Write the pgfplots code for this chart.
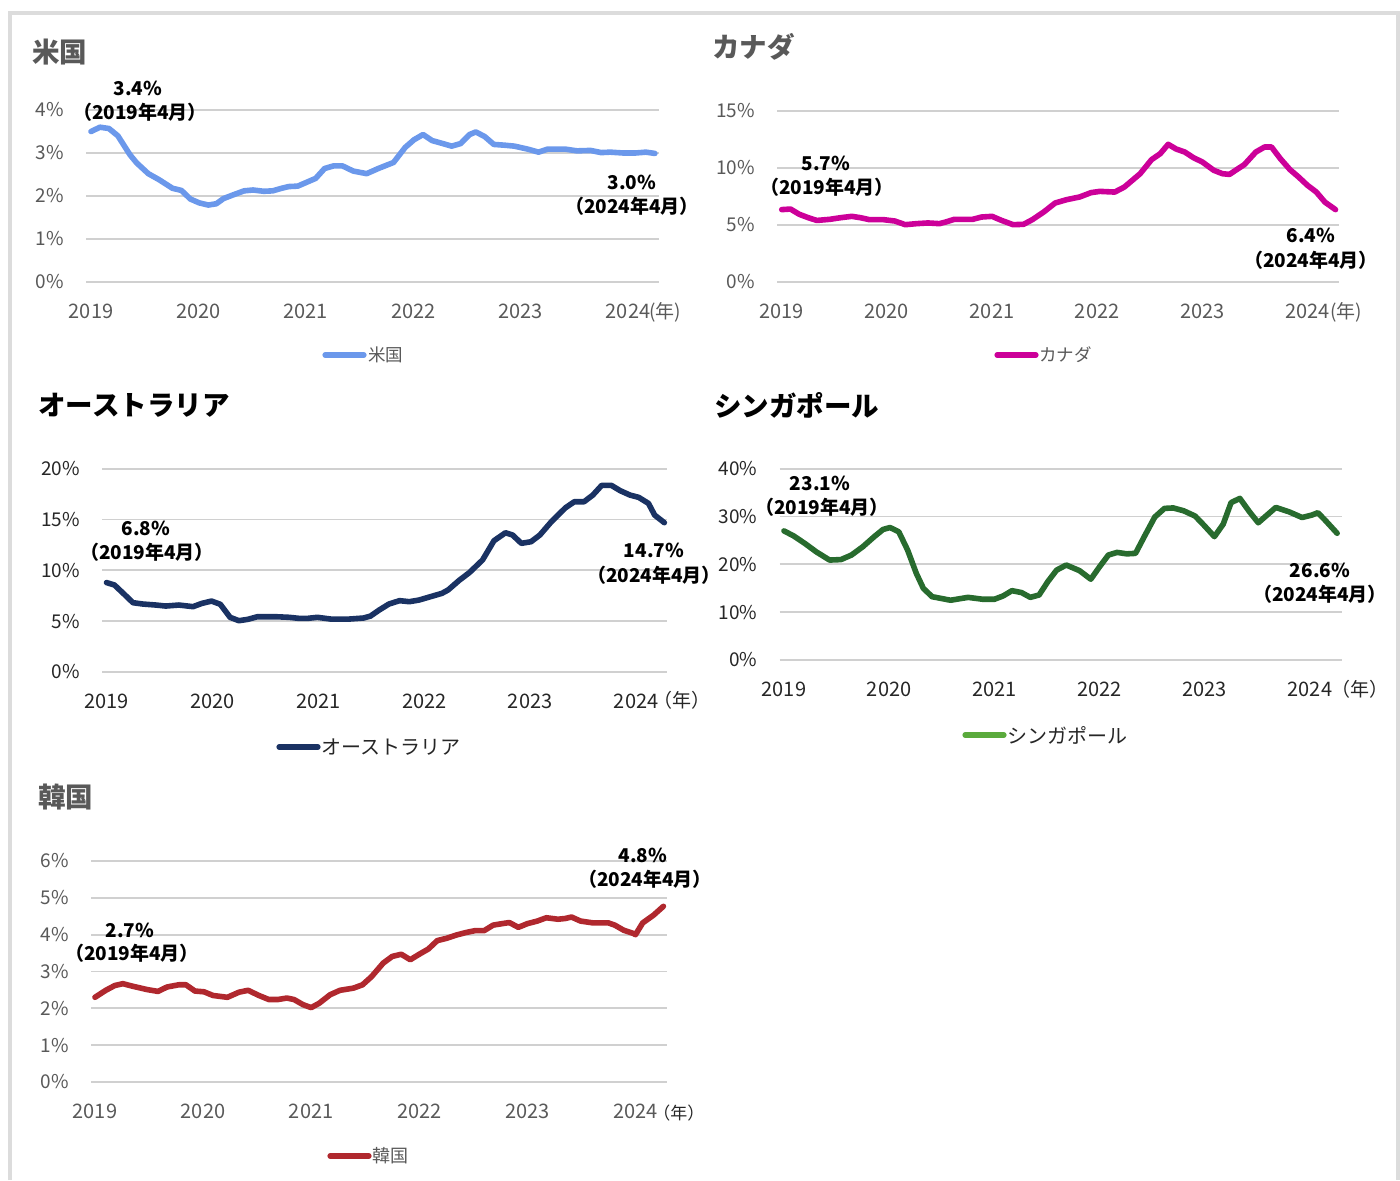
\documentclass[border=0pt]{standalone}
\usepackage{pgfplots}
\pgfplotsset{compat=1.18}
\usepackage{fontspec}
\setmainfont{Noto Sans CJK JP}
\definecolor{lg}{HTML}{595959}
\definecolor{dk}{HTML}{262626}
\definecolor{gridc}{HTML}{D0D0D0}
\definecolor{frame}{HTML}{DCDCDC}
\definecolor{usc}{HTML}{6B98EB}
\definecolor{cac}{HTML}{CC0099}
\definecolor{auc}{HTML}{1A3263}
\definecolor{sgc}{HTML}{286B2E}
\definecolor{sgl}{HTML}{5AAA3C}
\definecolor{krc}{HTML}{B0282E}
\pgfplotsset{
  panel/.style={
    scale only axis, clip=false,
    axis line style={draw=none},
    major tick length=0pt,
    ymajorgrids, grid style={gridc, line width=0.9pt},
    ymin=0,
    xtick={0,12,24,36,48,60},
    xticklabels={2019,2020,2021,2022,2023,2024},
    yticklabel style={anchor=east, xshift=-7.5pt, font=\fontsize{9.5}{11}\selectfont},
    xticklabel style={anchor=north, yshift=-7.5pt, font=\fontsize{10}{12}\selectfont},
  },
  dline/.style={line width=2.8pt, line join=round, line cap=round},
}
\newcommand{\ann}[1]{\fontsize{9.5}{11}\selectfont\bfseries #1}
\begin{document}
\begin{tikzpicture}
\path[use as bounding box] (0,0) rectangle (700pt,-590pt);
\draw[frame, line width=2pt] (5pt,-590pt) -- (5pt,-6.5pt) -- (699pt,-6.5pt) -- (699pt,-590pt);

% ---------- US ----------
\begin{axis}[panel, at={(43pt,-141pt)}, anchor=south west, width=286.5pt, height=86pt,
  xmin=-0.56, xmax=63.46, ymax=4, ytick={0,1,2,3,4},
  yticklabels={0\%,1\%,2\%,3\%,4\%}, tick label style={text=lg}]
\addplot[dline, usc] coordinates {
(0,3.5)(1,3.6)(2,3.57)(3,3.4)(4.35,2.96)(5.1,2.77)(6.4,2.52)(7.6,2.38)(9.1,2.18)(10.1,2.13)
(11.1,1.93)(12.1,1.84)(13.1,1.79)(14,1.82)(14.8,1.94)(15.8,2.02)(17.1,2.12)(18.1,2.14)(19.3,2.11)
(20.3,2.12)(21.3,2.18)(22.1,2.22)(23.1,2.23)(24.1,2.32)(25.1,2.41)(26.1,2.64)(27.1,2.70)(28.1,2.70)
(29.3,2.58)(30.8,2.52)(32.1,2.64)(33.8,2.78)(35.1,3.13)(36.1,3.31)(37.1,3.43)(38.1,3.29)(39.3,3.22)
(40.3,3.16)(41.3,3.22)(42.3,3.43)(43,3.49)(44,3.38)(45,3.20)(46.3,3.18)(47.3,3.16)(48.8,3.09)
(50,3.02)(51,3.09)(53,3.09)(54.3,3.05)(55.8,3.06)(57,3.01)(58,3.02)(59.5,3.0)(60.8,3.0)(62,3.02)(63,2.99)};
\end{axis}
\node[anchor=west, text=lg, font=\fontsize{9.5}{11}\selectfont, inner sep=0pt] at (324.5pt,-156pt) {(年)};
\node[anchor=west, text=lg, font=\fontsize{13.75}{15}\selectfont\bfseries, inner sep=0pt] at (16pt,-26pt) {米国};
\node[font=\ann{}, inner sep=0pt] at (69pt,-44pt) {3.4\%};
\node[font=\ann{}, inner sep=0pt] at (70pt,-56pt) {（2019年4月）};
\node[font=\ann{}, inner sep=0pt] at (316pt,-91pt) {3.0\%};
\node[font=\ann{}, inner sep=0pt] at (316pt,-103pt) {（2024年4月）};
\draw[usc, line width=2.6pt, line cap=round] (162.5pt,-177.5pt) -- (182pt,-177.5pt);
\node[anchor=west, text=lg, font=\fontsize{8.75}{10}\selectfont, inner sep=0pt] at (184pt,-177.5pt) {米国};

% ---------- Canada ----------
\begin{axis}[panel, at={(388.5pt,-141pt)}, anchor=south west, width=281pt, height=85.5pt,
  xmin=-0.54, xmax=63.6, ymax=15, ytick={0,5,10,15},
  yticklabels={0\%,5\%,10\%,15\%}, tick label style={text=lg}]
\addplot[dline, cac] coordinates {
(0,6.35)(1,6.4)(2,5.94)(3,5.65)(4,5.4)(5.5,5.5)(6.7,5.64)(8,5.76)(9,5.64)(10,5.47)(11.6,5.47)
(12.9,5.35)(14.1,5.03)(15.4,5.12)(16.7,5.18)(18,5.12)(18.7,5.26)(19.7,5.5)(21.8,5.5)(22.8,5.7)
(24,5.76)(25.1,5.4)(26.4,5.03)(27.6,5.06)(28.6,5.47)(29.9,6.14)(31.2,6.93)(32.5,7.22)(34,7.46)
(35.3,7.84)(36.3,7.95)(38,7.89)(39.1,8.33)(40.9,9.5)(42.2,10.73)(43.2,11.26)(44.1,12.08)(45,11.67)
(46,11.4)(47,10.9)(48,10.53)(49.3,9.8)(50.3,9.5)(51.1,9.44)(51.8,9.8)(52.8,10.3)(54.1,11.4)
(55.1,11.84)(55.9,11.84)(56.9,10.82)(58,9.86)(59,9.2)(60,8.48)(61,7.9)(62,7.0)(63.2,6.35)};
\end{axis}
\node[anchor=west, text=lg, font=\fontsize{9.5}{11}\selectfont, inner sep=0pt] at (665pt,-156pt) {(年)};
\node[anchor=west, text=lg, font=\fontsize{13.75}{15}\selectfont\bfseries, inner sep=0pt] at (356pt,-23.5pt) {カナダ};
\node[font=\ann{}, inner sep=0pt] at (413pt,-81.5pt) {5.7\%};
\node[font=\ann{}, inner sep=0pt] at (413.5pt,-93.5pt) {（2019年4月）};
\node[font=\ann{}, inner sep=0pt] at (655.5pt,-117.5pt) {6.4\%};
\node[font=\ann{}, inner sep=0pt] at (655.5pt,-130pt) {（2024年4月）};
\draw[cac, line width=2.6pt, line cap=round] (498.5pt,-177.5pt) -- (518pt,-177.5pt);
\node[anchor=west, text=lg, font=\fontsize{8.75}{10}\selectfont, inner sep=0pt] at (519.5pt,-177.5pt) {カナダ};

% ---------- Australia ----------
\begin{axis}[panel, at={(51pt,-336pt)}, anchor=south west, width=282.5pt, height=101.65pt,
  xmin=-0.51, xmax=63.5, ymax=20, ytick={0,5,10,15,20},
  yticklabels={0\%,5\%,10\%,15\%,20\%}, tick label style={text=dk}]
\addplot[dline, auc] coordinates {
(0,8.8)(0.9,8.56)(1.9,7.74)(3,6.82)(4.1,6.69)(5.6,6.59)(6.7,6.49)(8.2,6.59)(9.8,6.43)(10.8,6.75)
(11.9,6.98)(12.9,6.66)(14,5.38)(15,5.05)(16,5.18)(17.1,5.44)(19.2,5.44)(20.7,5.38)(21.8,5.28)
(22.8,5.28)(23.9,5.38)(25.4,5.21)(27.5,5.21)(29.1,5.31)(29.9,5.5)(30.9,6.1)(32,6.69)(33.2,7.02)
(34.3,6.92)(35.4,7.08)(36.7,7.41)(38,7.74)(38.7,8.07)(40,9.05)(41.1,9.77)(42.6,11.02)(43.9,12.92)
(45.2,13.7)(46,13.48)(47,12.66)(48.1,12.82)(49.1,13.48)(50.4,14.79)(52,16.16)(53,16.75)(54.1,16.75)
(55.1,17.41)(56.1,18.36)(57.2,18.36)(58.2,17.84)(59.3,17.41)(60.3,17.18)(61.4,16.59)(62.1,15.44)(63.2,14.69)};
\end{axis}
\node[anchor=west, text=dk, font=\fontsize{9.5}{11}\selectfont, inner sep=0pt] at (326.5pt,-350pt) {（年）};
\node[anchor=west, text=black, font=\fontsize{13.75}{15}\selectfont\bfseries, inner sep=0pt] at (19pt,-202.5pt) {オーストラリア};
\node[font=\ann{}, inner sep=0pt] at (73pt,-264pt) {6.8\%};
\node[font=\ann{}, inner sep=0pt] at (73.5pt,-276pt) {（2019年4月）};
\node[font=\ann{}, inner sep=0pt] at (327pt,-275pt) {14.7\%};
\node[font=\ann{}, inner sep=0pt] at (327pt,-287.5pt) {（2024年4月）};
\draw[auc, line width=2.6pt, line cap=round] (139.5pt,-373.5pt) -- (159pt,-373.5pt);
\node[anchor=west, text=dk, font=\fontsize{10}{12}\selectfont, inner sep=0pt] at (160.5pt,-373.5pt) {オーストラリア};

% ---------- Singapore ----------
\begin{axis}[panel, at={(389.75pt,-330pt)}, anchor=south west, width=281pt, height=95.65pt,
  xmin=-0.51, xmax=63.6, ymax=40, ytick={0,10,20,30,40},
  yticklabels={0\%,10\%,20\%,30\%,40\%}, tick label style={text=dk}]
\addplot[dline, sgc] coordinates {
(0,27.0)(1.1,25.95)(2.4,24.35)(3.7,22.6)(5.2,20.9)(6.5,21.0)(7.7,21.95)(9,23.7)(10.3,25.8)(11.3,27.3)
(12.1,27.7)(13.1,26.8)(14.1,23.0)(15.1,18.1)(15.9,14.98)(16.9,13.24)(19,12.5)(21,13.1)(22.7,12.7)
(24,12.7)(25,13.4)(26,14.5)(27.1,14.1)(28.1,13.1)(29.1,13.6)(30.1,16.4)(31.1,18.8)(32.2,19.86)
(33.7,18.7)(35,16.9)(36,19.5)(37,21.95)(38,22.5)(39.1,22.2)(40.1,22.3)(41.1,25.8)(42.3,29.9)
(43.4,31.7)(44.4,31.8)(45.6,31.2)(46.9,30.1)(47.9,28.2)(49.1,25.8)(50.1,28.4)(51,32.9)(52,33.8)
(53.1,31.0)(54.1,28.7)(55.1,30.3)(56.1,31.9)(57.6,31.0)(59.1,29.8)(60.2,30.3)(60.9,30.8)(61.7,29.3)(63.1,26.5)};
\end{axis}
\node[anchor=west, text=dk, font=\fontsize{9.5}{11}\selectfont, inner sep=0pt] at (665.5pt,-344.5pt) {（年）};
\node[anchor=west, text=black, font=\fontsize{13.75}{15}\selectfont\bfseries, inner sep=0pt] at (357pt,-202.5pt) {シンガポール};
\node[font=\ann{}, inner sep=0pt] at (410pt,-241.5pt) {23.1\%};
\node[font=\ann{}, inner sep=0pt] at (411pt,-253.5pt) {（2019年4月）};
\node[font=\ann{}, inner sep=0pt] at (660pt,-285pt) {26.6\%};
\node[font=\ann{}, inner sep=0pt] at (660pt,-297pt) {（2024年4月）};
\draw[sgl, line width=2.6pt, line cap=round] (482.5pt,-367.5pt) -- (502pt,-367.5pt);
\node[anchor=west, text=dk, font=\fontsize{10}{12}\selectfont, inner sep=0pt] at (503.5pt,-367.5pt) {シンガポール};

% ---------- Korea ----------
\begin{axis}[panel, at={(45.5pt,-541pt)}, anchor=south west, width=288pt, height=110.5pt,
  xmin=-0.44, xmax=63.5, ymax=6, ytick={0,1,2,3,4,5,6},
  yticklabels={0\%,1\%,2\%,3\%,4\%,5\%,6\%}, tick label style={text=lg}]
\addplot[dline, krc] coordinates {
(0,2.30)(1.2,2.49)(2.2,2.62)(3.1,2.67)(4.2,2.6)(5.8,2.51)(7,2.46)(8,2.58)(9.3,2.64)(10.1,2.64)
(11.1,2.47)(12.1,2.45)(13.1,2.35)(14.7,2.30)(16,2.44)(17,2.49)(18.2,2.35)(19.3,2.24)(20.3,2.24)
(21.3,2.28)(22.1,2.24)(23.1,2.10)(24,2.02)(24.9,2.14)(26.1,2.37)(27.2,2.49)(28.7,2.55)(29.7,2.64)
(30.7,2.86)(32,3.23)(33,3.41)(34,3.47)(35,3.32)(36,3.47)(37,3.61)(38,3.84)(39,3.9)(40.1,3.99)
(41.2,4.06)(42.2,4.11)(43.2,4.11)(44.2,4.26)(45.2,4.3)(46,4.33)(47,4.2)(48,4.3)(49.1,4.37)(50.1,4.46)
(51.4,4.42)(52.2,4.44)(52.9,4.48)(53.9,4.37)(55.3,4.32)(57,4.32)(57.7,4.26)(58.7,4.12)(59.8,4.03)
(60,4.0)(60.8,4.32)(62,4.53)(63.1,4.77)};
\end{axis}
\node[anchor=west, text=dk, font=\fontsize{8.5}{10}\selectfont, inner sep=0pt] at (326.5pt,-556.5pt) {（年）};
\node[anchor=west, text=lg, font=\fontsize{13.75}{15}\selectfont\bfseries, inner sep=0pt] at (19pt,-398.5pt) {韓国};
\node[font=\ann{}, inner sep=0pt] at (65pt,-465pt) {2.7\%};
\node[font=\ann{}, inner sep=0pt] at (66pt,-476.5pt) {（2019年4月）};
\node[font=\ann{}, inner sep=0pt] at (321.5pt,-427.5pt) {4.8\%};
\node[font=\ann{}, inner sep=0pt] at (322.5pt,-439.5pt) {（2024年4月）};
\draw[krc, line width=2.6pt, line cap=round] (165pt,-578pt) -- (184.5pt,-578pt);
\node[anchor=west, text=lg, font=\fontsize{9}{11}\selectfont, inner sep=0pt] at (186pt,-578pt) {韓国};
\end{tikzpicture}
\end{document}
